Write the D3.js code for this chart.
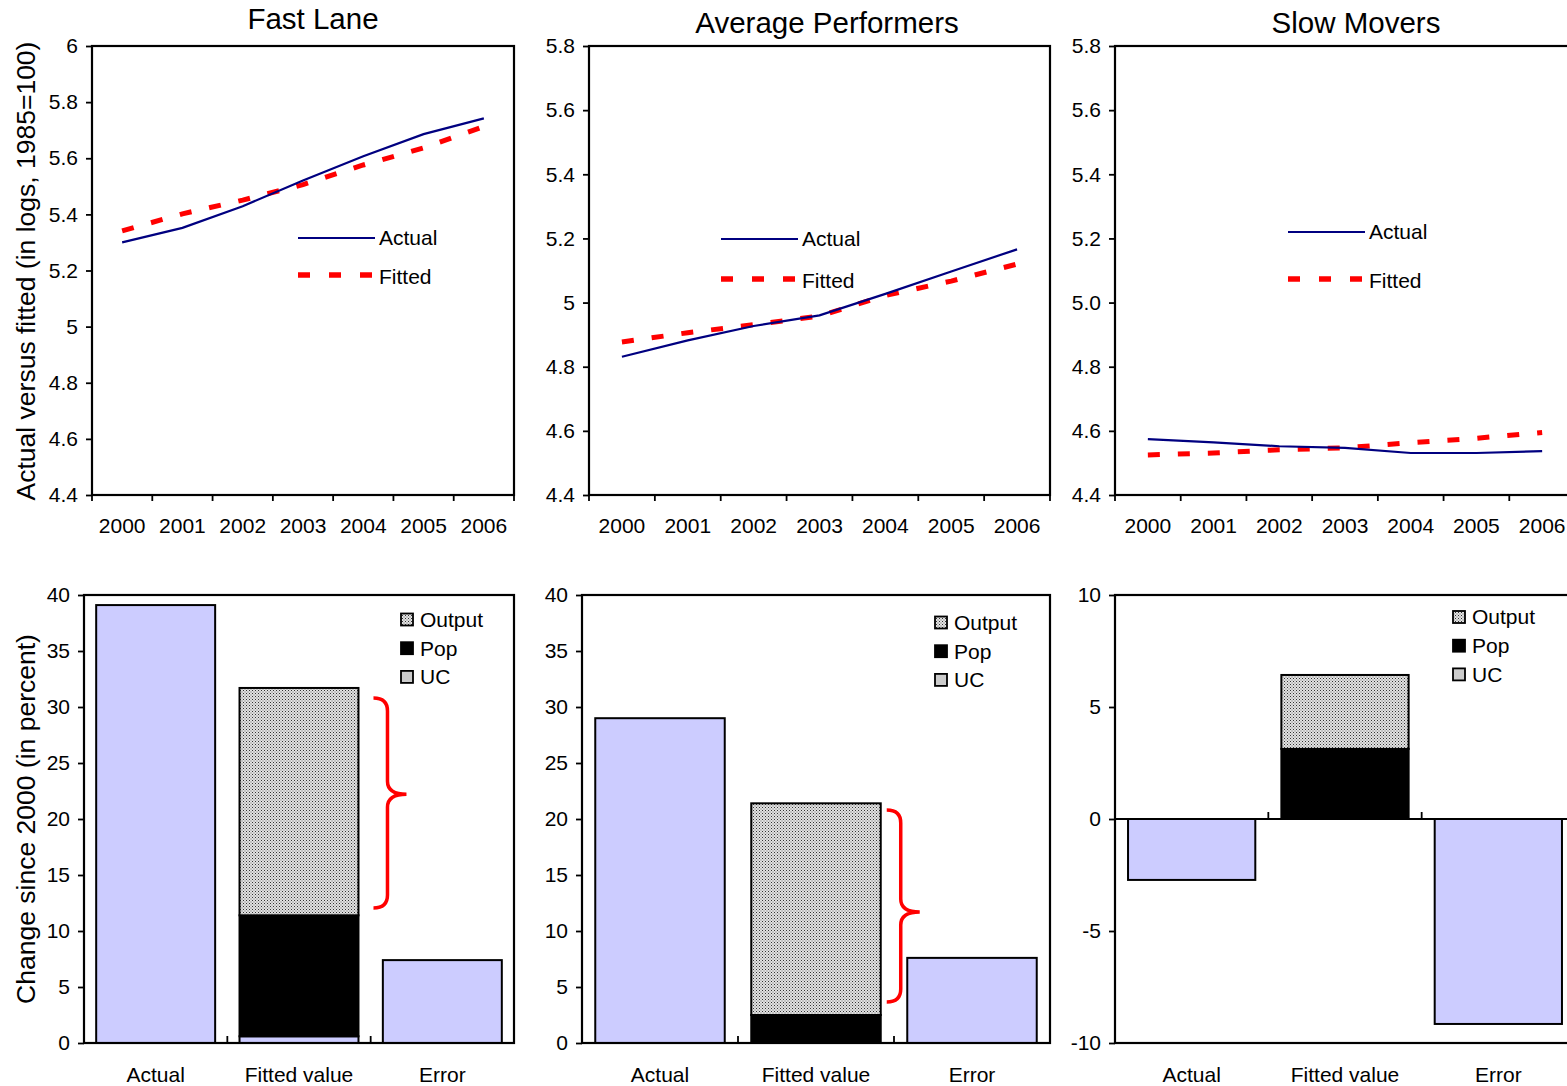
<!DOCTYPE html>
<html>
<head>
<meta charset="utf-8">
<script src="https://cdn.jsdelivr.net/npm/d3@7"></script>
<style>
  html, body { margin: 0; padding: 0; background: #fff; }
  svg { display: block; font-family: "Liberation Sans", Arial, sans-serif; }
</style>
</head>
<body>
<svg id="chart" width="1567" height="1086"></svg>
<script>
// ---- Data -------------------------------------------------------------
const years = ["2000", "2001", "2002", "2003", "2004", "2005", "2006"];

const fastActual = [5.300, 5.352, 5.429, 5.521, 5.607, 5.686, 5.742];
const fastFitted = [5.341, 5.402, 5.451, 5.506, 5.576, 5.637, 5.713];
const avgActual  = [4.831, 4.882, 4.927, 4.960, 5.027, 5.097, 5.166];
const avgFitted  = [4.877, 4.906, 4.931, 4.958, 5.022, 5.067, 5.120];
const slowActual = [4.574, 4.564, 4.552, 4.547, 4.531, 4.531, 4.537];
const slowFitted = [4.525, 4.531, 4.541, 4.547, 4.563, 4.577, 4.595];

const fastLineTicks = ["4.4", "4.6", "4.8", "5", "5.2", "5.4", "5.6", "5.8", "6"];
const avgLineTicks  = ["4.4", "4.6", "4.8", "5", "5.2", "5.4", "5.6", "5.8"];
const slowLineTicks = ["4.4", "4.6", "4.8", "5.0", "5.2", "5.4", "5.6", "5.8"];

const barCategories = ["Actual", "Fitted value", "Error"];
const stackKeys = ["UC", "Pop", "Output"];

// change since 2000, percent: actual, fitted components (UC, Pop, Output), error
const fastBarActual = 39.1, fastBarError = 7.4;
const fastBarStack  = [0.6, 10.8, 20.3];
const avgBarActual  = 29.0, avgBarError = 7.6;
const avgBarStack   = [0.0, 2.5, 18.9];
const slowBarActual = -2.72, slowBarError = -9.15;
const slowBarStack  = [0.0, 3.13, 3.30];

const barTicks40 = ["0", "5", "10", "15", "20", "25", "30", "35", "40"];
const barTicks10 = ["-10", "-5", "0", "5", "10"];

// brace extents (value units): top, bottom, tip
const fastBrace = [30.8, 12.05, 22.2];
const avgBrace  = [20.8, 3.66, 11.7];

// ---- Drawing ----------------------------------------------------------
const svg = d3.select("#chart");
const FONT_TICK = 21;
const LAVENDER = "#ccccff";

const defs = svg.append("defs");
const pat = defs.append("pattern")
  .attr("id", "dots").attr("width", 3).attr("height", 3)
  .attr("patternUnits", "userSpaceOnUse");
pat.append("rect").attr("width", 3).attr("height", 3).attr("fill", "#e2e2e2");
pat.append("rect").attr("x", 0).attr("y", 0).attr("width", 1).attr("height", 1).attr("fill", "#333");
pat.append("rect").attr("x", 1.5).attr("y", 1.5).attr("width", 1).attr("height", 1).attr("fill", "#666");

function styleAxis(g) {
  g.select(".domain").remove();
  g.selectAll(".tick line").attr("stroke", "#000").attr("stroke-width", 1.8);
  g.selectAll(".tick text").attr("font-size", FONT_TICK).attr("fill", "#000")
    .attr("font-family", "'Liberation Sans', Arial, sans-serif");
}

function linePanel(cfg) {
  const g = svg.append("g");
  const x = d3.scalePoint().domain(years).range([cfg.x0, cfg.x1]).padding(0.5);
  const xb = d3.scaleBand().domain(years).range([cfg.x0, cfg.x1]).padding(0);
  const tickVals = cfg.ticks.map(Number);
  const y = d3.scaleLinear().domain([tickVals[0], tickVals[tickVals.length - 1]]).range([cfg.y1, cfg.y0]);

  // y axis
  g.append("g").attr("transform", `translate(${cfg.x0},0)`)
    .call(d3.axisLeft(y).tickValues(tickVals).tickFormat((d, i) => cfg.ticks[i]).tickSize(6).tickPadding(8))
    .call(styleAxis);

  // x ticks at category boundaries
  const bounds = years.map(d => xb(d)).concat([cfg.x1]);
  g.selectAll(".xt").data(bounds).join("line")
    .attr("x1", d => d).attr("x2", d => d)
    .attr("y1", cfg.y1).attr("y2", cfg.y1 + 6)
    .attr("stroke", "#000").attr("stroke-width", 1.8);
  g.selectAll(".xl").data(years).join("text")
    .attr("x", d => x(d)).attr("y", cfg.y1 + 38)
    .attr("text-anchor", "middle").attr("font-size", FONT_TICK).text(d => d);

  // frame
  g.append("rect").attr("x", cfg.x0).attr("y", cfg.y0)
    .attr("width", cfg.x1 - cfg.x0).attr("height", cfg.y1 - cfg.y0)
    .attr("fill", "none").attr("stroke", "#000").attr("stroke-width", 2.2);

  const line = d3.line().x((d, i) => x(years[i])).y(d => y(d));
  g.append("path").datum(cfg.fitted).attr("d", line)
    .attr("fill", "none").attr("stroke", "#ff0000").attr("stroke-width", 5)
    .attr("stroke-dasharray", "12 18");
  g.append("path").datum(cfg.actual).attr("d", line)
    .attr("fill", "none").attr("stroke", "#000080").attr("stroke-width", 2.2);

  // legend
  const L = cfg.legend;
  g.append("line").attr("x1", L.x).attr("x2", L.x + 77).attr("y1", L.yA).attr("y2", L.yA)
    .attr("stroke", "#000080").attr("stroke-width", 2.2);
  g.append("text").attr("x", L.x + 81).attr("y", L.yA).attr("dy", "0.35em")
    .attr("font-size", FONT_TICK).text("Actual");
  g.append("line").attr("x1", L.x).attr("x2", L.x + 77).attr("y1", L.yF).attr("y2", L.yF)
    .attr("stroke", "#ff0000").attr("stroke-width", 5.5).attr("stroke-dasharray", "12 19");
  g.append("text").attr("x", L.x + 81).attr("y", L.yF + 2).attr("dy", "0.35em")
    .attr("font-size", FONT_TICK).text("Fitted");

  // title
  g.append("text").attr("x", cfg.titleX).attr("y", cfg.titleY)
    .attr("text-anchor", "middle").attr("font-size", 29.5).text(cfg.title);
}

function barPanel(cfg) {
  const g = svg.append("g");
  const tickVals = cfg.ticks.map(Number);
  const y = d3.scaleLinear().domain([tickVals[0], tickVals[tickVals.length - 1]]).range([cfg.y1, cfg.y0]);
  const x = d3.scaleBand().domain(barCategories).range([cfg.x0, cfg.x1])
    .paddingInner(0.17).paddingOuter(0.085);
  const xb = d3.scaleBand().domain(barCategories).range([cfg.x0, cfg.x1]).padding(0);

  g.append("g").attr("transform", `translate(${cfg.x0},0)`)
    .call(d3.axisLeft(y).tickValues(tickVals).tickFormat((d, i) => cfg.ticks[i]).tickSize(6).tickPadding(8))
    .call(styleAxis);

  const y0 = y(0);
  const rectFor = (a, b) => ({ y: y(Math.max(a, b)), h: Math.abs(y(a) - y(b)) });

  // single bars
  const singles = [
    { c: "Actual", v: cfg.actual },
    { c: "Error", v: cfg.error }
  ];
  singles.forEach(s => {
    const r = rectFor(0, s.v);
    g.append("rect").attr("x", x(s.c)).attr("width", x.bandwidth())
      .attr("y", r.y).attr("height", r.h)
      .attr("fill", LAVENDER).attr("stroke", "#000").attr("stroke-width", 2);
  });

  // stacked fitted value
  const fills = { UC: LAVENDER, Pop: "#000", Output: "url(#dots)" };
  let base = 0;
  stackKeys.forEach((k, i) => {
    const v = cfg.stack[i];
    if (v > 0) {
      const r = rectFor(base, base + v);
      g.append("rect").attr("x", x("Fitted value")).attr("width", x.bandwidth())
        .attr("y", r.y).attr("height", r.h)
        .attr("fill", fills[k]).attr("stroke", "#000").attr("stroke-width", 2);
    }
    base += v;
  });

  // category axis along zero
  g.append("line").attr("x1", cfg.x0).attr("x2", cfg.x1).attr("y1", y0).attr("y2", y0)
    .attr("stroke", "#000").attr("stroke-width", 2.2);
  const inner = barCategories.slice(1).map(c => xb(c));
  g.selectAll(".ct").data(inner).join("line")
    .attr("x1", d => d).attr("x2", d => d).attr("y1", y0).attr("y2", y0 - 7)
    .attr("stroke", "#000").attr("stroke-width", 1.8);
  g.selectAll(".cl").data(barCategories).join("text")
    .attr("x", d => xb(d) + xb.bandwidth() / 2).attr("y", cfg.y1 + 39)
    .attr("text-anchor", "middle").attr("font-size", FONT_TICK).text(d => d);

  // frame
  g.append("rect").attr("x", cfg.x0).attr("y", cfg.y0)
    .attr("width", cfg.x1 - cfg.x0).attr("height", cfg.y1 - cfg.y0)
    .attr("fill", "none").attr("stroke", "#000").attr("stroke-width", 2.2);

  // brace beside the output component
  if (cfg.brace) {
    const xs = x("Fitted value") + x.bandwidth() + cfg.braceGap;
    const xm = xs + 14, xt = xs + 33;
    const yt = y(cfg.brace[0]), yb = y(cfg.brace[1]), ym = y(cfg.brace[2]);
    const r = 13;
    const p = d3.path();
    p.moveTo(xs, yt);
    p.quadraticCurveTo(xm, yt, xm, yt + r);
    p.lineTo(xm, ym - r);
    p.quadraticCurveTo(xm, ym, xt, ym);
    p.quadraticCurveTo(xm, ym, xm, ym + r);
    p.lineTo(xm, yb - r);
    p.quadraticCurveTo(xm, yb, xs, yb);
    g.append("path").attr("d", p.toString()).attr("fill", "none")
      .attr("stroke", "#ff0000").attr("stroke-width", 3.5);
  }

  // legend
  const legFill = { Output: "url(#dots)", Pop: "#000", UC: "#cccccc" };
  ["Output", "Pop", "UC"].forEach((k, i) => {
    const cy = cfg.legend.y + i * 28.7;
    g.append("rect").attr("x", cfg.legend.x).attr("y", cy - 6).attr("width", 12).attr("height", 12)
      .attr("fill", legFill[k]).attr("stroke", "#000").attr("stroke-width", 1.8);
    g.append("text").attr("x", cfg.legend.x + 19).attr("y", cy).attr("dy", "0.35em")
      .attr("font-size", FONT_TICK).text(k);
  });
}

linePanel({ x0: 92, x1: 514, y0: 46, y1: 495, ticks: fastLineTicks,
  actual: fastActual, fitted: fastFitted, title: "Fast Lane", titleX: 313, titleY: 29,
  legend: { x: 298, yA: 238, yF: 275 } });
linePanel({ x0: 589, x1: 1050, y0: 46, y1: 495, ticks: avgLineTicks,
  actual: avgActual, fitted: avgFitted, title: "Average Performers", titleX: 827, titleY: 33,
  legend: { x: 721, yA: 239, yF: 279 } });
linePanel({ x0: 1115, x1: 1575, y0: 46, y1: 495, ticks: slowLineTicks,
  actual: slowActual, fitted: slowFitted, title: "Slow Movers", titleX: 1356, titleY: 33,
  legend: { x: 1288, yA: 232, yF: 279 } });

barPanel({ x0: 84, x1: 514, y0: 595, y1: 1043, ticks: barTicks40,
  actual: fastBarActual, error: fastBarError, stack: fastBarStack, brace: fastBrace, braceGap: 15,
  legend: { x: 401, y: 619.5 } });
barPanel({ x0: 582, x1: 1050, y0: 595, y1: 1043, ticks: barTicks40,
  actual: avgBarActual, error: avgBarError, stack: avgBarStack, brace: avgBrace, braceGap: 6,
  legend: { x: 935, y: 622.5 } });
barPanel({ x0: 1115, x1: 1575, y0: 595, y1: 1043, ticks: barTicks10,
  actual: slowBarActual, error: slowBarError, stack: slowBarStack, brace: null, braceGap: 0,
  legend: { x: 1453, y: 617 } });

// shared axis titles
svg.append("text").attr("transform", "translate(35,271) rotate(-90)")
  .attr("text-anchor", "middle").attr("font-size", 26.5)
  .text("Actual versus fitted (in logs, 1985=100)");
svg.append("text").attr("transform", "translate(35,819) rotate(-90)")
  .attr("text-anchor", "middle").attr("font-size", 26.5)
  .text("Change since 2000 (in percent)");
</script>
</body>
</html>
